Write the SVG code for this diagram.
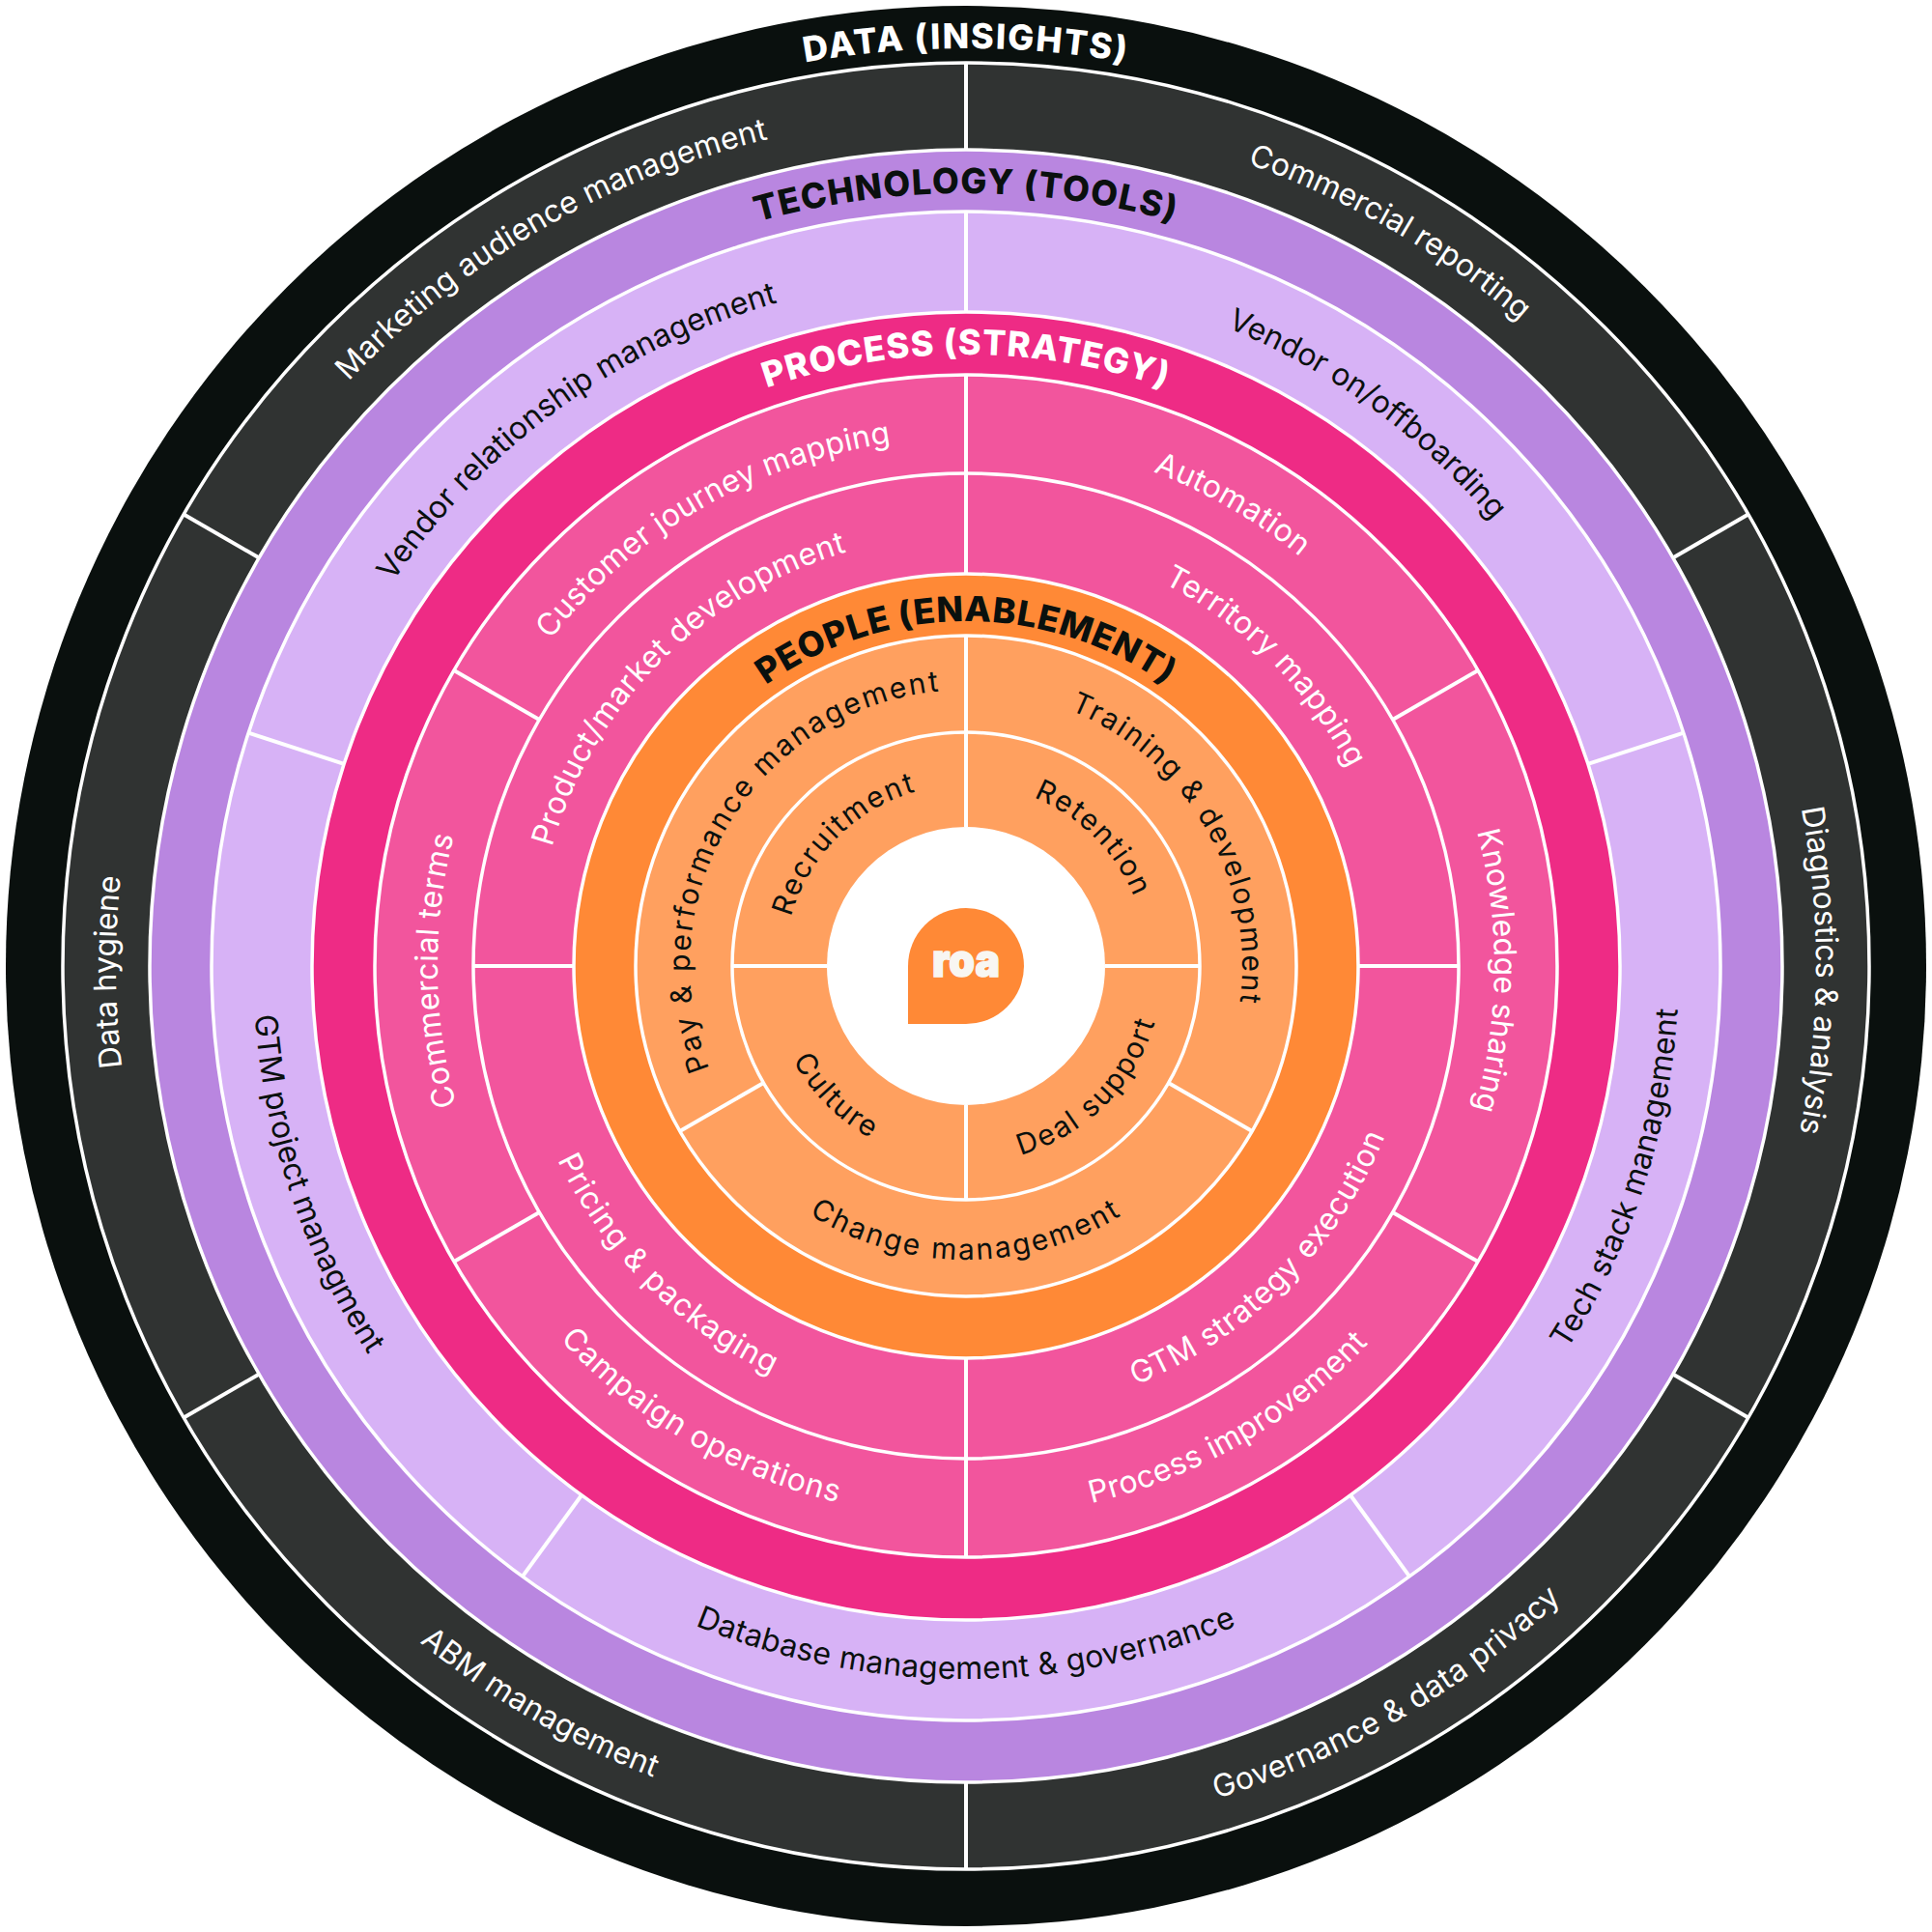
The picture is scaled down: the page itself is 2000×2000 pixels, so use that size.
<svg xmlns="http://www.w3.org/2000/svg" width="2000" height="2000" viewBox="0 0 2000 2000">
<style>
text{font-family:Inter,"Noto Sans","Liberation Sans",sans-serif;text-anchor:middle}
.b{stroke:#fff;stroke-width:3.5}
.d{stroke:#fff;stroke-width:4;fill:none}
.h{font-size:36px;font-weight:800}
.l{font-size:32px;font-weight:400}
.o{font-size:30px;font-weight:400;letter-spacing:2px}
.w{fill:#fff}
.k{fill:#0a100e}
</style>
<defs>
<path id="c950" d="M1000 1950A950 950 0 1 1 1000 50A950 950 0 1 1 1000 1950"/>
<path id="c880" d="M1000 1880A880 880 0 1 1 1000 120A880 880 0 1 1 1000 1880"/>
<path id="a900" d="M1000 100A900 900 0 1 0 1000 1900A900 900 0 1 0 1000 100"/>
<path id="c800" d="M1000 1800A800 800 0 1 1 1000 200A800 800 0 1 1 1000 1800"/>
<path id="c714" d="M1000 1714A714 714 0 1 1 1000 286A714 714 0 1 1 1000 1714"/>
<path id="a738" d="M1000 262A738 738 0 1 0 1000 1738A738 738 0 1 0 1000 262"/>
<path id="c633" d="M1000 1633A633 633 0 1 1 1000 367A633 633 0 1 1 1000 1633"/>
<path id="c547" d="M1000 1547A547 547 0 1 1 1000 453A547 547 0 1 1 1000 1547"/>
<path id="a571" d="M1000 429A571 571 0 1 0 1000 1571A571 571 0 1 0 1000 429"/>
<path id="c446" d="M1000 1446A446 446 0 1 1 1000 554A446 446 0 1 1 1000 1446"/>
<path id="a468" d="M1000 532A468 468 0 1 0 1000 1468A468 468 0 1 0 1000 532"/>
<path id="c357" d="M1000 1357A357 357 0 1 1 1000 643A357 357 0 1 1 1000 1357"/>
<path id="c286" d="M1000 1286A286 286 0 1 1 1000 714A286 286 0 1 1 1000 1286"/>
<path id="a304" d="M1000 696A304 304 0 1 0 1000 1304A304 304 0 1 0 1000 696"/>
<path id="c188" d="M1000 1188A188 188 0 1 1 1000 812A188 188 0 1 1 1000 1188"/>
<path id="a204" d="M1000 796A204 204 0 1 0 1000 1204A204 204 0 1 0 1000 796"/>
</defs>
<rect width="2000" height="2000" fill="#fff"/>
<g id="data">
<circle cx="1000" cy="1000" r="994" fill="#0a100e"/>
<circle class="b" cx="1000" cy="1000" r="935" fill="#303332"/>
<text class="h w" letter-spacing="1.8"><textPath href="#c950" startOffset="50%">DATA (INSIGHTS)</textPath></text>
<g class="l w">
<text transform="rotate(30 1000 1000)"><textPath href="#c880" startOffset="50%">Commercial reporting</textPath></text>
<text transform="rotate(90.3 1000 1000)"><textPath href="#c880" startOffset="50%">Diagnostics &amp; analysis</textPath></text>
<text transform="rotate(-30 1000 1000)" letter-spacing="0.3"><textPath href="#a900" startOffset="50%">Governance &amp; data privacy</textPath></text>
<text transform="rotate(30 1000 1000)" letter-spacing="0.2"><textPath href="#a900" startOffset="50%">ABM management</textPath></text>
<text transform="rotate(-90.4 1000 1000)"><textPath href="#c880" startOffset="50%">Data hygiene</textPath></text>
<text transform="rotate(-30 1000 1000)" letter-spacing="0.1"><textPath href="#c880" startOffset="50%">Marketing audience management</textPath></text>
</g>
</g>
<g id="technology">
<circle class="b" cx="1000" cy="1000" r="845" fill="#b986e0"/>
<circle class="b" cx="1000" cy="1000" r="781" fill="#d7b2f6"/>
<text class="h k" letter-spacing="1.3"><textPath href="#c800" startOffset="50%">TECHNOLOGY (TOOLS)</textPath></text>
<g class="l k">
<text transform="rotate(36 1000 1000)"><textPath href="#c714" startOffset="50%">Vendor on/offboarding</textPath></text>
<text transform="rotate(-72 1000 1000)" letter-spacing="0.2"><textPath href="#a738" startOffset="50%">Tech stack management</textPath></text>
<text letter-spacing="0.25"><textPath href="#a738" startOffset="50%">Database management &amp; governance</textPath></text>
<text transform="rotate(71.5 1000 1000)"><textPath href="#a738" startOffset="50%">GTM project managment</textPath></text>
<text transform="rotate(-36 1000 1000)" letter-spacing="0.1"><textPath href="#c714" startOffset="50%">Vendor relationship management</textPath></text>
</g>
</g>
<g id="process">
<circle class="b" cx="1000" cy="1000" r="677" fill="#ee2b85"/>
<circle class="b" cx="1000" cy="1000" r="612" fill="#f2559d"/>
<circle class="b" cx="1000" cy="1000" r="510" fill="#f2559d"/>
<text class="h w" letter-spacing="1"><textPath href="#c633" startOffset="50%">PROCESS (STRATEGY)</textPath></text>
<g class="l w">
<text transform="rotate(30 1000 1000)" letter-spacing="0.4"><textPath href="#c547" startOffset="50%">Automation</textPath></text>
<text transform="rotate(90.5 1000 1000)"><textPath href="#c547" startOffset="50%">Knowledge sharing</textPath></text>
<text transform="rotate(-30 1000 1000)" letter-spacing="0.4"><textPath href="#a571" startOffset="50%">Process improvement</textPath></text>
<text transform="rotate(30.4 1000 1000)" letter-spacing="0.8"><textPath href="#a571" startOffset="50%">Campaign operations</textPath></text>
<text transform="rotate(-90.5 1000 1000)" letter-spacing="0.4"><textPath href="#c547" startOffset="50%">Commercial terms</textPath></text>
<text transform="rotate(-30 1000 1000)" letter-spacing="0.3"><textPath href="#c547" startOffset="50%">Customer journey mapping</textPath></text>
<text transform="rotate(45 1000 1000)" letter-spacing="0.35"><textPath href="#c446" startOffset="50%">Territory mapping</textPath></text>
<text transform="rotate(-45 1000 1000)" letter-spacing="0.65"><textPath href="#a468" startOffset="50%">GTM strategy execution</textPath></text>
<text transform="rotate(45 1000 1000)" letter-spacing="1"><textPath href="#a468" startOffset="50%">Pricing &amp; packaging</textPath></text>
<text transform="rotate(-45 1000 1000)" letter-spacing="0.45"><textPath href="#c446" startOffset="50%">Product/market development</textPath></text>
</g>
</g>
<g id="people">
<circle class="b" cx="1000" cy="1000" r="406" fill="#ff8936"/>
<circle class="b" cx="1000" cy="1000" r="342" fill="#ffa05f"/>
<circle class="b" cx="1000" cy="1000" r="242" fill="#ffa05f"/>
<text class="h k" letter-spacing="0.8"><textPath href="#c357" startOffset="50%">PEOPLE (ENABLEMENT)</textPath></text>
<g class="o k">
<text transform="rotate(60 1000 1000)"><textPath href="#c286" startOffset="50%">Training &amp; development</textPath></text>
<text letter-spacing="2.3"><textPath href="#a304" startOffset="50%">Change management</textPath></text>
<text transform="rotate(-58.5 1000 1000)" style="letter-spacing:2.4px"><textPath href="#c286" startOffset="50%">Pay &amp; performance management</textPath></text>
<text transform="rotate(45 1000 1000)"><textPath href="#c188" startOffset="50%">Retention</textPath></text>
<text transform="rotate(-45 1000 1000)"><textPath href="#a204" startOffset="50%">Deal support</textPath></text>
<text transform="rotate(45 1000 1000)"><textPath href="#a204" startOffset="50%">Culture</textPath></text>
<text transform="rotate(-45 1000 1000)"><textPath href="#c188" startOffset="50%">Recruitment</textPath></text>
</g>
</g>
<g id="dividers" class="d">
<g id="div-data">
<line x1="1000" y1="155" x2="1000" y2="65"/>
<line x1="1000" y1="155" x2="1000" y2="65" transform="rotate(60 1000 1000)"/>
<line x1="1000" y1="155" x2="1000" y2="65" transform="rotate(120 1000 1000)"/>
<line x1="1000" y1="155" x2="1000" y2="65" transform="rotate(180 1000 1000)"/>
<line x1="1000" y1="155" x2="1000" y2="65" transform="rotate(240 1000 1000)"/>
<line x1="1000" y1="155" x2="1000" y2="65" transform="rotate(300 1000 1000)"/>
</g>
<g id="div-technology">
<line x1="1000" y1="323" x2="1000" y2="219"/>
<line x1="1000" y1="323" x2="1000" y2="219" transform="rotate(72 1000 1000)"/>
<line x1="1000" y1="323" x2="1000" y2="219" transform="rotate(144 1000 1000)"/>
<line x1="1000" y1="323" x2="1000" y2="219" transform="rotate(216 1000 1000)"/>
<line x1="1000" y1="323" x2="1000" y2="219" transform="rotate(288 1000 1000)"/>
</g>
<g id="div-process">
<line x1="1000" y1="490" x2="1000" y2="388"/>
<line x1="1000" y1="490" x2="1000" y2="388" transform="rotate(60 1000 1000)"/>
<line x1="1000" y1="490" x2="1000" y2="388" transform="rotate(120 1000 1000)"/>
<line x1="1000" y1="490" x2="1000" y2="388" transform="rotate(180 1000 1000)"/>
<line x1="1000" y1="490" x2="1000" y2="388" transform="rotate(240 1000 1000)"/>
<line x1="1000" y1="490" x2="1000" y2="388" transform="rotate(300 1000 1000)"/>
<line x1="1000" y1="594" x2="1000" y2="490"/>
<line x1="1000" y1="594" x2="1000" y2="490" transform="rotate(90 1000 1000)"/>
<line x1="1000" y1="594" x2="1000" y2="490" transform="rotate(180 1000 1000)"/>
<line x1="1000" y1="594" x2="1000" y2="490" transform="rotate(270 1000 1000)"/>
</g>
<g id="div-people">
<line x1="1000" y1="758" x2="1000" y2="658"/>
<line x1="1000" y1="758" x2="1000" y2="658" transform="rotate(120 1000 1000)"/>
<line x1="1000" y1="758" x2="1000" y2="658" transform="rotate(240 1000 1000)"/>
<line x1="1000" y1="856" x2="1000" y2="758"/>
<line x1="1000" y1="856" x2="1000" y2="758" transform="rotate(90 1000 1000)"/>
<line x1="1000" y1="856" x2="1000" y2="758" transform="rotate(180 1000 1000)"/>
<line x1="1000" y1="856" x2="1000" y2="758" transform="rotate(270 1000 1000)"/>
</g>
</g>
<g id="logo">
<circle cx="1000" cy="1000" r="144" fill="#fff"/>
<path d="M940 1060V1000A60 60 0 1 1 1000 1060Z" fill="#ff8936"/>
<text x="1000" y="1011" font-size="47" font-weight="900" fill="#f8f6f2" stroke="#f8f6f2" stroke-width="1.5" textLength="70" lengthAdjust="spacingAndGlyphs">roa</text>
</g>
</svg>
